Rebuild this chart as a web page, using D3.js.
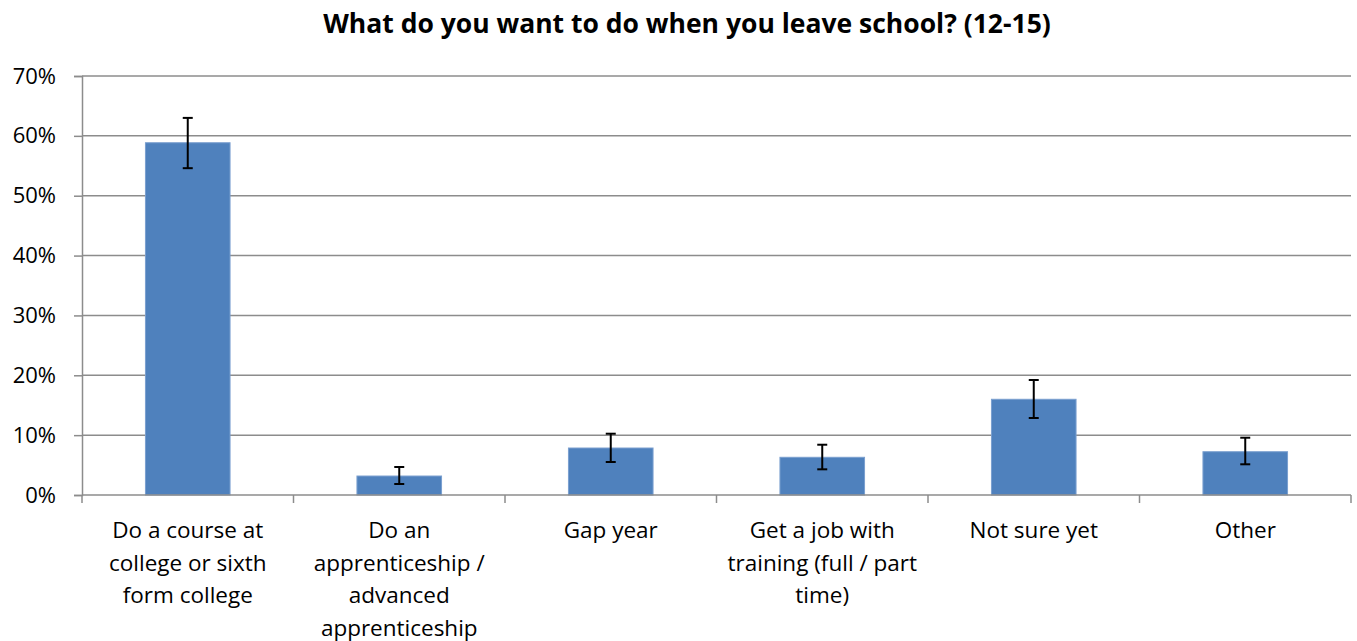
<!DOCTYPE html>
<html><head><meta charset="utf-8">
<script src="https://cdn.jsdelivr.net/npm/d3@7"></script>
<style>body{margin:0;background:#fff}svg{display:block}</style>
</head><body>
<script>
const categories = [
  ["Do a course at","college or sixth","form college"],
  ["Do an","apprenticeship /","advanced","apprenticeship"],
  ["Gap year"],
  ["Get a job with","training (full / part","time)"],
  ["Not sure yet"],
  ["Other"]
];
const values = [58.85, 3.17, 7.85, 6.3, 15.99, 7.23];
const errHigh = [63.0, 4.68, 10.24, 8.4, 19.21, 9.57];
const errLow = [54.6, 1.84, 5.51, 4.29, 12.86, 5.13];
const yTicks = [0,10,20,30,40,50,60,70];
const title = "What do you want to do when you leave school? (12-15)";

const W = 1357, H = 641;
const L = 82, R = 1351, T = 76, B = 495;
const font = "'Open Sans', 'Liberation Sans', sans-serif";
const svg = d3.select("body").append("svg").attr("width", W).attr("height", H);

const x = d3.scaleBand().domain(d3.range(categories.length)).range([L, R]).paddingInner(0.6).paddingOuter(0.3);
const y = d3.scaleLinear().domain([0, 70]).range([B, T]);
const grid = "#8c8c8c";

svg.append("text").attr("x", 687).attr("y", 33).attr("text-anchor", "middle")
  .attr("font-family", font).attr("font-weight", "bold").attr("font-size", 26.5).attr("fill", "#000")
  .text(title);

// gridlines
svg.append("g").selectAll("line").data(yTicks.filter(d => d > 0)).join("line")
  .attr("x1", L).attr("x2", R).attr("y1", d => y(d)).attr("y2", d => y(d))
  .attr("stroke", grid).attr("stroke-width", 1.5);

// y axis
const yAxis = svg.append("g").attr("transform", `translate(${L},0)`)
  .call(d3.axisLeft(y).tickValues(yTicks).tickFormat(d => d + "%").tickSize(8).tickPadding(18));
yAxis.select(".domain").attr("stroke", grid).attr("stroke-width", 1.5);
yAxis.selectAll(".tick line").attr("stroke", grid).attr("stroke-width", 1.5);
yAxis.selectAll("text").attr("font-family", font).attr("font-size", 22).attr("fill", "#000");

// bars
svg.append("g").selectAll("rect").data(values).join("rect")
  .attr("x", (d, i) => x(i)).attr("width", x.bandwidth())
  .attr("y", d => y(d)).attr("height", d => B - y(d))
  .attr("fill", "#4f81bd").attr("stroke", "#7a9fcf").attr("stroke-width", 1);

// x axis
const boundaries = d3.range(categories.length + 1).map(i => L + i * x.step());
svg.append("line").attr("x1", L).attr("x2", R).attr("y1", B).attr("y2", B)
  .attr("stroke", grid).attr("stroke-width", 1.5);
svg.append("g").selectAll("line").data(boundaries).join("line")
  .attr("x1", d => d).attr("x2", d => d).attr("y1", B).attr("y2", B + 8)
  .attr("stroke", grid).attr("stroke-width", 1.5);

// error bars
const eb = svg.append("g").attr("stroke", "#000").attr("stroke-width", 2);
values.forEach((v, i) => {
  const cx = x(i) + x.bandwidth() / 2;
  eb.append("line").attr("x1", cx).attr("x2", cx).attr("y1", y(errHigh[i])).attr("y2", y(errLow[i]));
  [errHigh[i], errLow[i]].forEach(e => eb.append("line").attr("x1", cx - 5).attr("x2", cx + 5).attr("y1", y(e)).attr("y2", y(e)));
});

// category labels
const cl = svg.append("g").attr("font-family", font).attr("font-size", 22.5).attr("fill", "#000").attr("text-anchor", "middle");
categories.forEach((lines, i) => {
  const cx = x(i) + x.bandwidth() / 2;
  const t = cl.append("text").attr("x", cx).attr("y", 538);
  lines.forEach((ln, j) => t.append("tspan").attr("x", cx).attr("dy", j ? 32.5 : 0).text(ln));
});
</script>
</body></html>
